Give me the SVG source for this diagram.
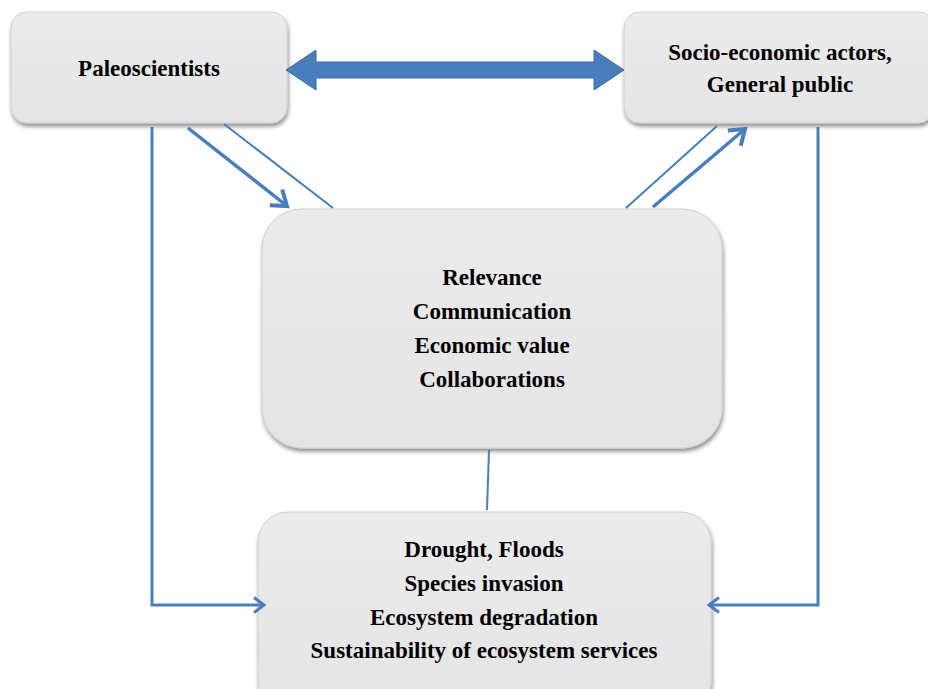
<svg xmlns="http://www.w3.org/2000/svg" width="928" height="689" viewBox="0 0 928 689">
<defs>
<linearGradient id="g" x1="0" y1="0" x2="0" y2="1">
<stop offset="0" stop-color="#ececec"/>
<stop offset="1" stop-color="#e4e4e4"/>
</linearGradient>
<filter id="sh" x="-10%" y="-10%" width="120%" height="130%">
<feGaussianBlur in="SourceAlpha" stdDeviation="2"/>
<feOffset dx="1" dy="3" result="b"/>
<feComponentTransfer><feFuncA type="linear" slope="0.45"/></feComponentTransfer>
<feMerge><feMergeNode/><feMergeNode in="SourceGraphic"/></feMerge>
</filter>
<marker id="ah" markerWidth="16" markerHeight="18" refX="12" refY="9" orient="auto" markerUnits="userSpaceOnUse">
<path d="M2,1.5 L12,9 L2,16.5" fill="none" stroke="#4a7ebb" stroke-width="3"/>
</marker>
<marker id="ah2" markerWidth="22" markerHeight="24" refX="17" refY="12" orient="auto" markerUnits="userSpaceOnUse">
<path d="M3,2 L17,12 L3,22" fill="none" stroke="#4a7ebb" stroke-width="4"/>
</marker>
</defs>
<style>
.box{fill:url(#g);stroke:#d0d0d0;stroke-width:1;filter:url(#sh)}
.t{font-family:"Liberation Serif","Times New Roman",serif;font-weight:bold;font-size:23px;fill:#000;text-anchor:middle}
.c{fill:none;stroke:#4a7ebb}
</style>
<g id="paleoscientists">
<rect class="box" x="11" y="12" width="276" height="111" rx="16"/>
<text class="t" x="149" y="76">Paleoscientists</text>
</g>
<g id="socio">
<rect class="box" x="624" y="12" width="310" height="111" rx="16"/>
<text class="t" x="780" y="60">Socio-economic actors,</text>
<text class="t" x="780" y="92">General public</text>
</g>
<g id="center">
<rect class="box" x="262" y="209" width="460" height="239" rx="40"/>
<text class="t" x="492" y="285">Relevance</text>
<text class="t" x="492" y="319">Communication</text>
<text class="t" x="492" y="353">Economic value</text>
<text class="t" x="492" y="387">Collaborations</text>
</g>
<g id="impacts">
<rect class="box" x="258" y="512" width="453" height="200" rx="30"/>
<text class="t" x="484" y="557">Drought, Floods</text>
<text class="t" x="484" y="591">Species invasion</text>
<text class="t" x="484" y="625">Ecosystem degradation</text>
<text class="t" x="484" y="658">Sustainability of ecosystem services</text>
</g>
<g id="connectors">
<path d="M286,70 L316,50 L316,62 L594,62 L594,50 L624,70 L594,90 L594,78 L316,78 L316,90 Z" fill="#4a7ebb" stroke="#3a6aa3" stroke-width="1"/>
<path class="c" d="M152,127 L152,605 L264,605" stroke-width="3" marker-end="url(#ah)"/>
<path class="c" d="M818,127 L818,605 L709,605" stroke-width="3" marker-end="url(#ah)"/>
<line class="c" x1="188" y1="128" x2="287" y2="206" stroke-width="3.5" marker-end="url(#ah2)"/>
<line class="c" x1="224" y1="124" x2="333" y2="208" stroke-width="2"/>
<line class="c" x1="626" y1="208" x2="717" y2="126" stroke-width="2"/>
<line class="c" x1="653" y1="207" x2="745" y2="129" stroke-width="3.5" marker-end="url(#ah2)"/>
<line class="c" x1="489" y1="450" x2="487" y2="510" stroke-width="2"/>
</g>
</svg>
